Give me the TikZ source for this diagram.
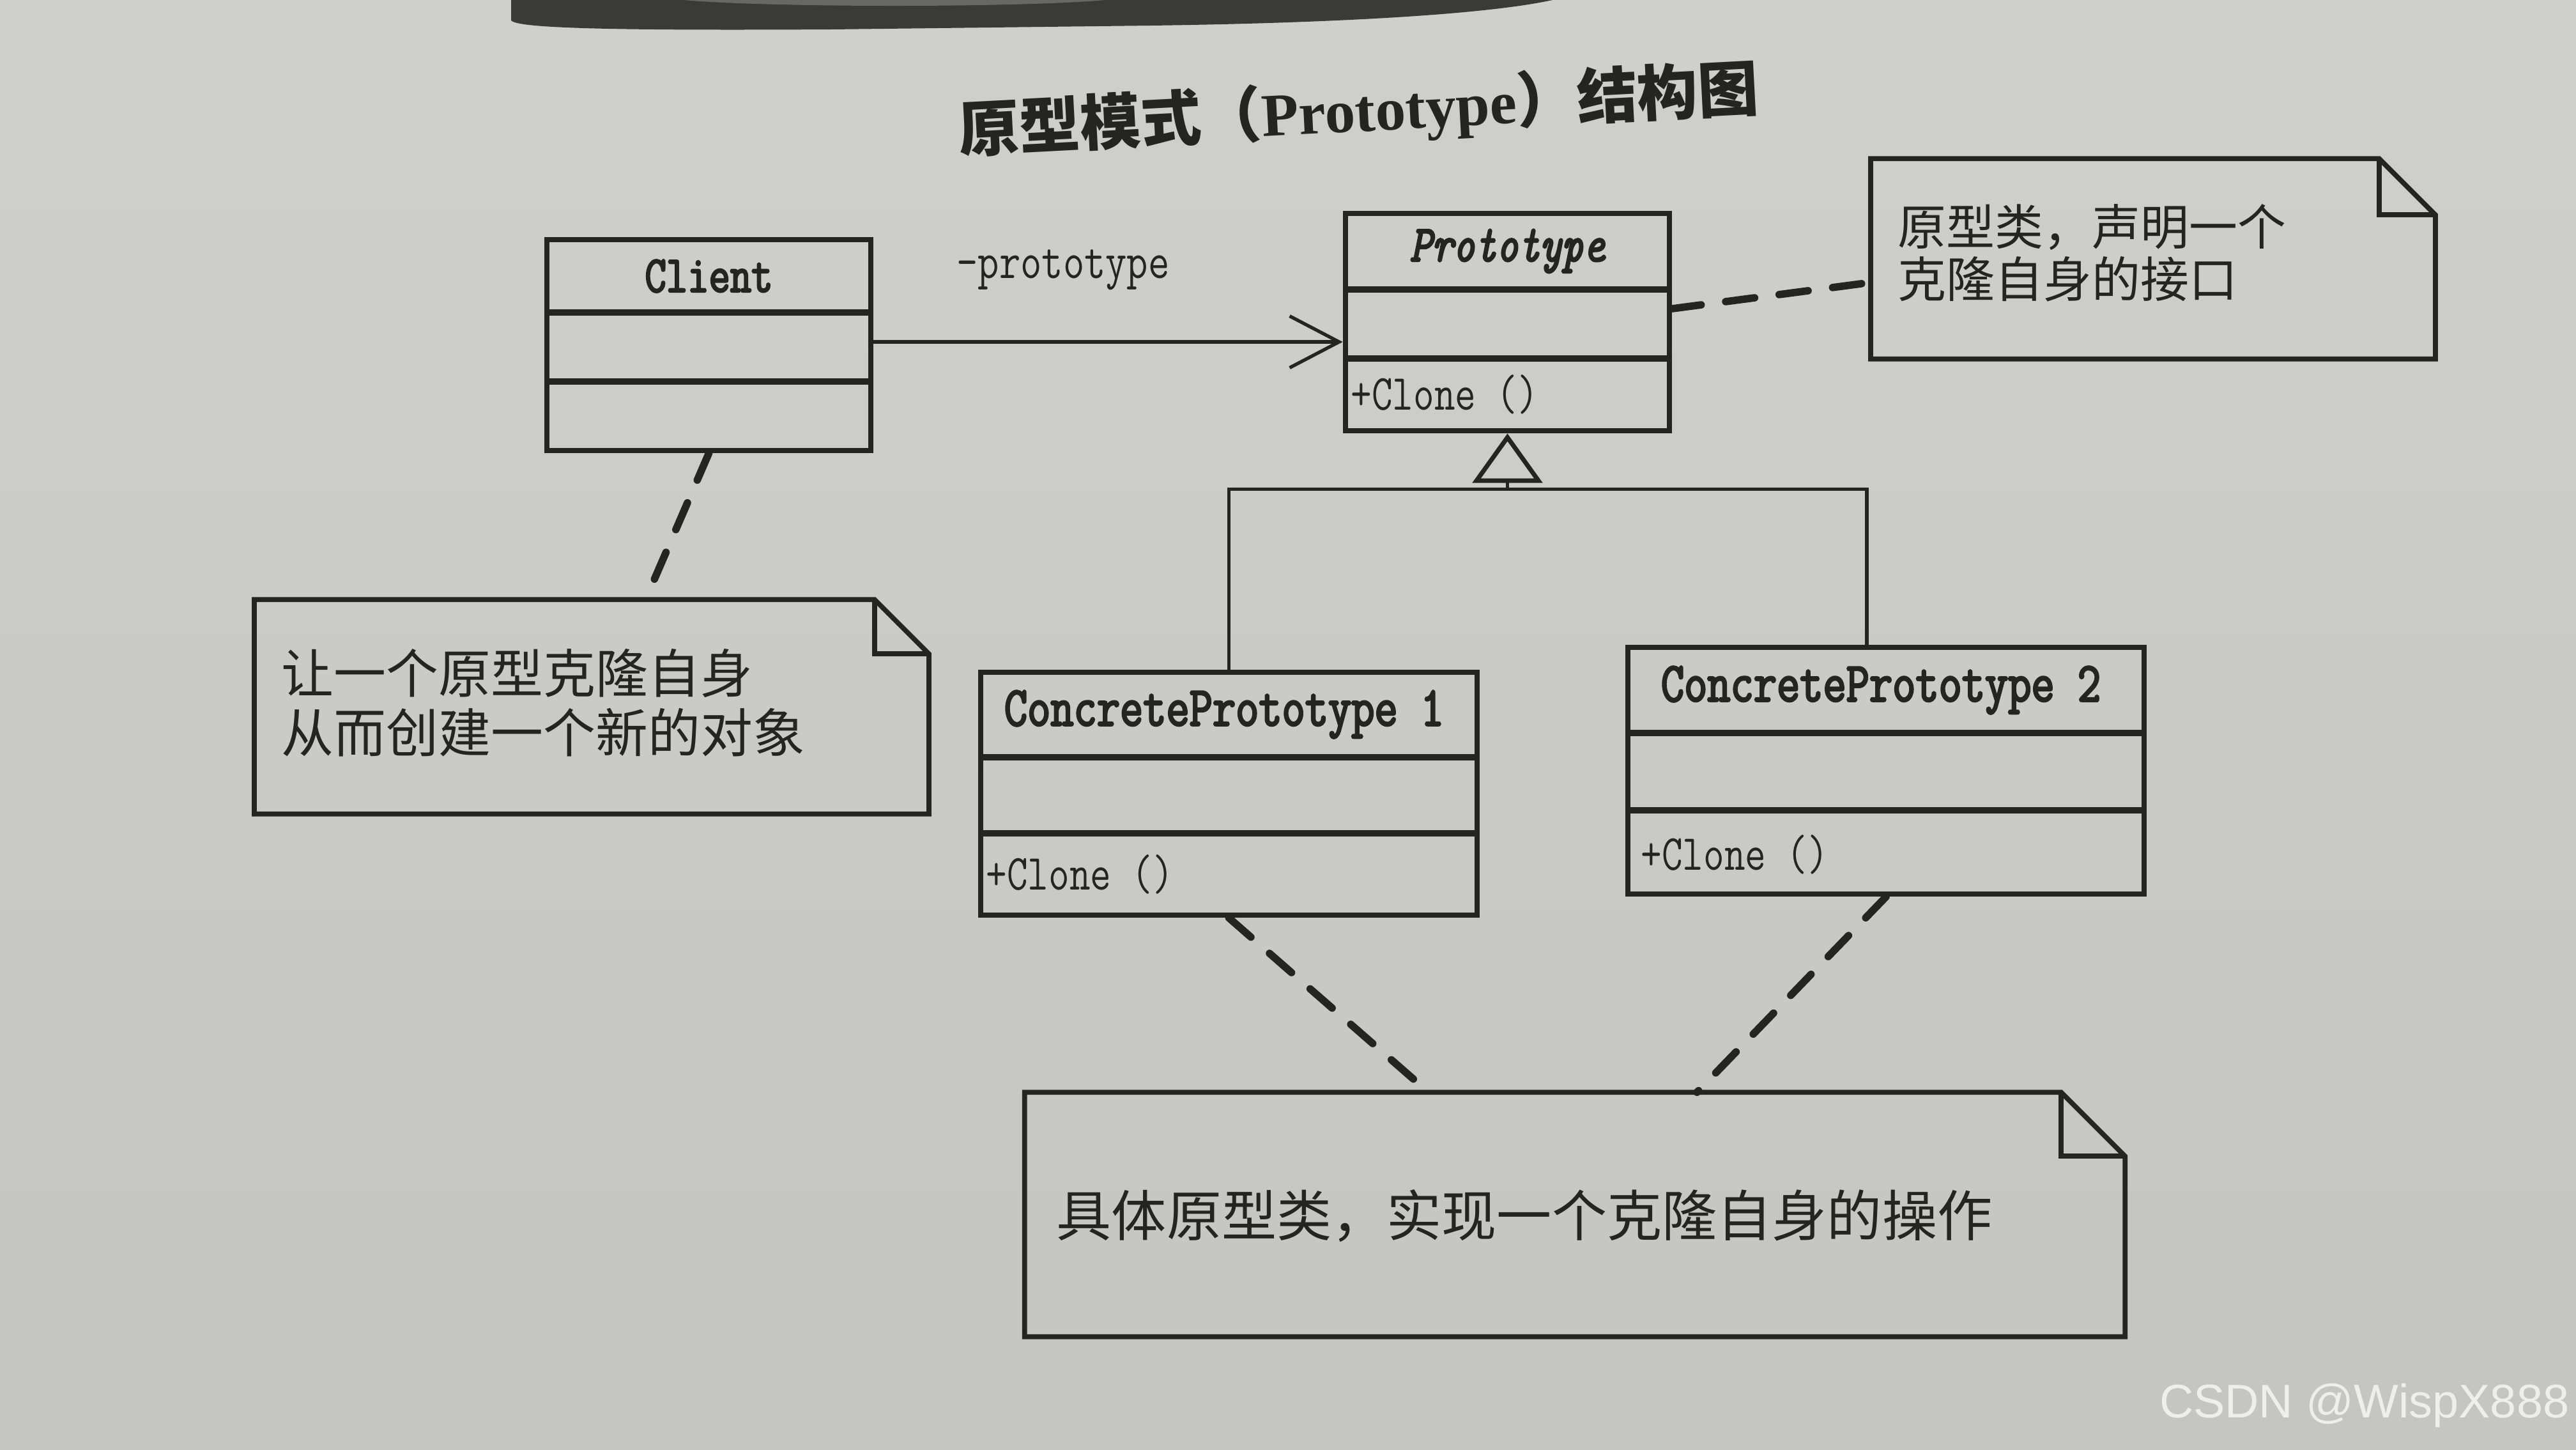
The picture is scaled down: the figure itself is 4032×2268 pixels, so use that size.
\documentclass[tikz,border=0pt]{standalone}
\usepackage{fontspec}
\setmainfont{Liberation Serif}
\newfontfamily\cjk{Noto Sans CJK SC}
\newfontfamily\clsfont[FakeStretch=0.8]{Latin Modern Mono}
\newfontfamily\clsbold[FakeStretch=0.8,FakeBold=3.2]{Latin Modern Mono}
\newfontfamily\wmfont{Liberation Sans}
\usetikzlibrary{arrows.meta,calc}
\definecolor{bg}{RGB}{207,208,204}
\definecolor{ink}{RGB}{36,36,34}
\definecolor{bandc}{RGB}{58,58,56}
\definecolor{wmc}{RGB}{238,238,236}
\newcommand{\drawnote}[2]{%
  \draw[notestyle] (#1.north west) -- ([xshift=-#2]#1.north east) -- ([yshift=-#2]#1.north east) -- (#1.south east) -- (#1.south west) -- cycle;
  \draw[notestyle] ([xshift=-#2]#1.north east) |- ([yshift=-#2]#1.north east);}
\begin{document}
\begin{tikzpicture}[x=0.01cm,y=-0.01cm,
  classbox/.style={draw=ink, line width=2.4pt, rectangle, inner sep=0pt},
  divider/.style={draw=ink, line width=2.6pt},
  notestyle/.style={draw=ink, line width=2.2pt, line join=miter},
  notebox/.style={rectangle, inner sep=0pt},
  cname/.style={text=ink, inner sep=0pt, font=\clsbold\fontsize{23pt}{25pt}\selectfont},
  cpname/.style={text=ink, inner sep=0pt, font=\clsbold\fontsize{25pt}{27pt}\selectfont},
  meth/.style={text=ink, inner sep=0pt, anchor=west, font=\clsfont\fontsize{22.5pt}{24pt}\selectfont},
  notetext/.style={text=ink, inner sep=0pt, anchor=west, align=left},
  assoc/.style={draw=ink, line width=1.5pt, -{Straight Barb[length=22pt,width=23pt,line width=1.5pt]}},
  solidline/.style={draw=ink, line width=1.6pt},
  general/.style={draw=ink, line width=1.6pt, -{Triangle[open,length=22pt,width=31pt,line width=2pt]}},
  dashline/.style={draw=ink, line width=3.3pt, line cap=round, dash pattern=on 13pt off 11pt}
]
% background
\shade[top color=bg!100!white, bottom color=bg!95!black] (0,0) rectangle (4032,2268);
\useasboundingbox (0,0) rectangle (4032,2268);
\fill[bandc] (800,0) -- (800,32) .. controls (810,44) and (950,48) .. (1300,46) -- (1800,40) .. controls (2100,36) and (2330,22) .. (2430,0) -- cycle;
\fill[bandc!70!bg] (1070,0) .. controls (1200,12) and (1600,12) .. (1730,0) -- cycle;

% title
\node[text=ink, rotate=3, inner sep=0pt] (title) at (2127,175)
  {\fontsize{27pt}{30pt}\selectfont{\cjk\bfseries 原型模式（}{\bfseries Prototype}{\cjk\bfseries ）结构图}};

% Client
\node[classbox, minimum width=5.07cm, minimum height=3.30cm] (client) at (1109.5,540) {};
\draw[divider] (856,489) -- (1363,489);
\draw[divider] (856,597) -- (1363,597);
\node[cname] (clientname) at (1109.5,432) {Client};

% Prototype
\node[classbox, minimum width=5.07cm, minimum height=3.40cm] (proto) at (2359.5,504) {};
\draw[divider] (2106,453) -- (2613,453);
\draw[divider] (2106,561) -- (2613,561);
\node[cname, font=\clsbold\itshape\fontsize{23pt}{25pt}\selectfont] (protoname) at (2359.5,393) {Prototype};
\node[meth] (protometh) at (2114,617) {+Clone ()};

% ConcretePrototype 1
\node[classbox, minimum width=7.77cm, minimum height=3.80cm] (cp1) at (1923.5,1242) {};
\draw[divider] (1535,1185) -- (2312,1185);
\draw[divider] (1535,1304) -- (2312,1304);
\node[cpname] (cp1name) at (1916,1118) {ConcretePrototype 1};
\node[meth] (cp1meth) at (1543,1368) {+Clone ()};

% ConcretePrototype 2
\node[classbox, minimum width=8.08cm, minimum height=3.86cm] (cp2) at (2952,1206) {};
\draw[divider] (2548,1147) -- (3356,1147);
\draw[divider] (2548,1268) -- (3356,1268);
\node[cpname] (cp2name) at (2944,1080) {ConcretePrototype 2};
\node[meth] (cp2meth) at (2568,1337) {+Clone ()};

% notes
\node[notebox, minimum width=8.82cm, minimum height=3.12cm] (n1) at (3370,405) {};
\drawnote{n1}{0.88cm}
\node[notetext, font=\cjk\fontsize{21.6pt}{23.4pt}\selectfont] (n1t) at (2970,396) {原型类，声明一个\\克隆自身的接口};

\node[notebox, minimum width=10.54cm, minimum height=3.34cm] (n2) at (926,1106) {};
\drawnote{n2}{0.85cm}
\node[notetext, font=\cjk\fontsize{23.3pt}{26.5pt}\selectfont] (n2t) at (440,1100) {让一个原型克隆自身\\从而创建一个新的对象};

\node[notebox, minimum width=17.20cm, minimum height=3.81cm] (n3) at (2465,1900.5) {};
\drawnote{n3}{1.0cm}
\node[notetext, font=\cjk\fontsize{24.5pt}{27pt}\selectfont] (n3t) at (1653,1903) {具体原型类，实现一个克隆自身的操作};

% association
\draw[assoc] (client.east |- 0,535) -- (proto.west |- 0,535);
\node[text=ink, inner sep=0pt, font=\clsfont\fontsize{23pt}{25pt}\selectfont] (rolelbl) at (1664,422) {-prototype};

% generalization
\coordinate (hb) at ($(proto.south)+(0,87)$);
\coordinate (cp2top) at ($(cp2.north)+(-30,0)$);
\draw[solidline] (cp1.north) |- (hb);
\draw[solidline] (cp2top) |- (hb);
\draw[general] (hb) -- (proto.south);

% note anchors
\draw[dashline] ($(proto.east)+(0,-21)$) -- ($(n1.west)+(0,37)$);
\draw[dashline] (client.south) -- ($(n2.north west)!0.58!(n2.north east)$);
\draw[dashline] (cp1.south) -- ($(n3.north west)!0.367!(n3.north east)$);
\draw[dashline] (cp2.south) -- ($(n3.north west)!0.611!(n3.north east)$);

% watermark
\node[anchor=east, inner sep=0pt, text=wmc, font=\wmfont\fontsize{21pt}{23pt}\selectfont] (wm) at (4022,2199) {CSDN @WispX888};
\end{tikzpicture}
\end{document}
